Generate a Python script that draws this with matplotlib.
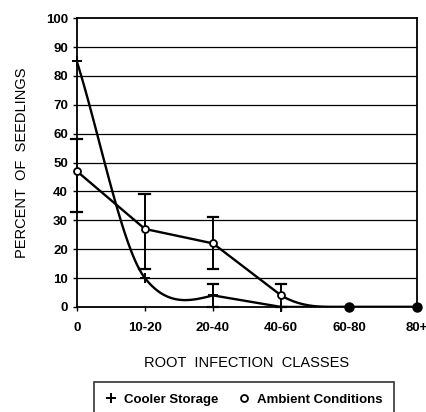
import numpy as np
import matplotlib
matplotlib.use("Agg")
import matplotlib.pyplot as plt
from matplotlib.lines import Line2D

classes = ["0", "10-20", "20-40", "40-60", "60-80", "80+"]
cooler = [85, 10, 4, 0, 0, 0]
ambient = [47, 27, 22, 4, 0, 0]
ambient_lo = [33, 13, 13, 0, None, None]
ambient_hi = [58, 39, 31, 8, None, None]
cooler_lo = [None, None, 0, None, None, None]
cooler_hi = [None, None, 8, None, None, None]

# curve shape: slopes at the points of the smoothed part of each line
cooler_slopes = [-75, -30, 6]      # smoothed over first 2 segments, then straight
ambient_slopes = [-14, 0]          # straight for first 3 segments, smoothed 40-60 -> 60-80


def hermite(y, m, x0=0, n=40):
    xs, ys = [], []
    for i in range(len(y) - 1):
        t = np.linspace(0, 1, n)
        h00 = 2 * t**3 - 3 * t**2 + 1
        h10 = t**3 - 2 * t**2 + t
        h01 = -2 * t**3 + 3 * t**2
        h11 = t**3 - t**2
        xs.append(x0 + i + t)
        ys.append(h00 * y[i] + h10 * m[i] + h01 * y[i + 1] + h11 * m[i + 1])
    return np.concatenate(xs), np.concatenate(ys)


plt.rcParams['font.family'] = ['Liberation Sans Narrow', 'Liberation Sans', 'DejaVu Sans']

fig = plt.figure(figsize=(4.27, 4.12), dpi=100)
ax = fig.add_axes([0.180, 0.255, 0.797, 0.701])

for v in range(10, 100, 10):
    ax.axhline(v, color="black", lw=0.9, zorder=1)

pos = np.arange(len(classes))

# cooler storage: smooth dip, then straight
xs, ys = hermite(cooler[:3], cooler_slopes)
ax.plot(xs, ys, color="black", lw=1.7, zorder=3, solid_capstyle="round")
ax.plot(pos[2:], cooler[2:], color="black", lw=1.7, zorder=3, solid_capstyle="round")

# ambient conditions: straight, then smooth tail
ax.plot(pos[:4], ambient[:4], color="black", lw=1.7, zorder=3, solid_capstyle="round")
xs, ys = hermite(ambient[3:5], ambient_slopes, x0=3)
ax.plot(xs, ys, color="black", lw=1.7, zorder=3)
ax.plot(pos[4:], ambient[4:], color="black", lw=1.7, zorder=3)

for lo, hi in [(ambient_lo, ambient_hi), (cooler_lo, cooler_hi)]:
    for i in range(len(classes)):
        if lo[i] is None:
            continue
        ax.plot([pos[i], pos[i]], [lo[i], hi[i]], color="black", lw=1.4, zorder=3, clip_on=False)
        for v in (lo[i], hi[i]):
            ax.plot([pos[i] - 0.08, pos[i] + 0.08], [v, v], color="black", lw=1.6,
                    zorder=3, clip_on=False)

ax.plot(pos[:4], cooler[:4], ls="none", marker="+", ms=7, mew=1.4, color="black",
        zorder=4, clip_on=False)
ax.plot(pos[:4], ambient[:4], ls="none", marker="o", ms=5, mew=1.3, mfc="white",
        mec="black", zorder=4, clip_on=False)
ax.plot(pos[4:], ambient[4:], ls="none", marker="o", ms=6.5, color="black",
        zorder=5, clip_on=False)

ax.set_xlim(0, 5)
ax.set_ylim(0, 100)
ax.set_yticks(range(0, 101, 10))
ax.set_xticks(pos)
ax.set_xticklabels(classes)
ax.tick_params(axis="both", length=3, width=1, labelsize=9.5, color="black")
for lab in ax.get_xticklabels() + ax.get_yticklabels():
    lab.set_fontweight("bold")
ax.tick_params(axis="x", pad=8)
for s in ax.spines.values():
    s.set_linewidth(1.3)

ax.set_xlabel("ROOT  INFECTION  CLASSES", fontsize=10.5, labelpad=16,
              family=['Liberation Sans', 'DejaVu Sans'])
ax.set_ylabel("PERCENT  OF  SEEDLINGS", fontsize=10.5, labelpad=12,
              family=['Liberation Sans', 'DejaVu Sans'])

handles = [
    Line2D([], [], ls="none", marker="+", ms=7, mew=1.4, color="black"),
    Line2D([], [], ls="none", marker="o", ms=5, mew=1.3, mfc="white", mec="black"),
]
leg = fig.legend(handles, ["Cooler Storage", "Ambient Conditions"], loc="upper center",
                 bbox_to_anchor=(0.572, 0.073), borderaxespad=0, ncol=2, frameon=True,
                 fancybox=False, edgecolor="black", handlelength=0.8, handletextpad=0.6,
                 columnspacing=1.5, borderpad=0.9,
                 prop={"weight": "bold", "size": 9.5})
leg.get_frame().set_linewidth(1.2)

fig.savefig("out.png", dpi=100)
